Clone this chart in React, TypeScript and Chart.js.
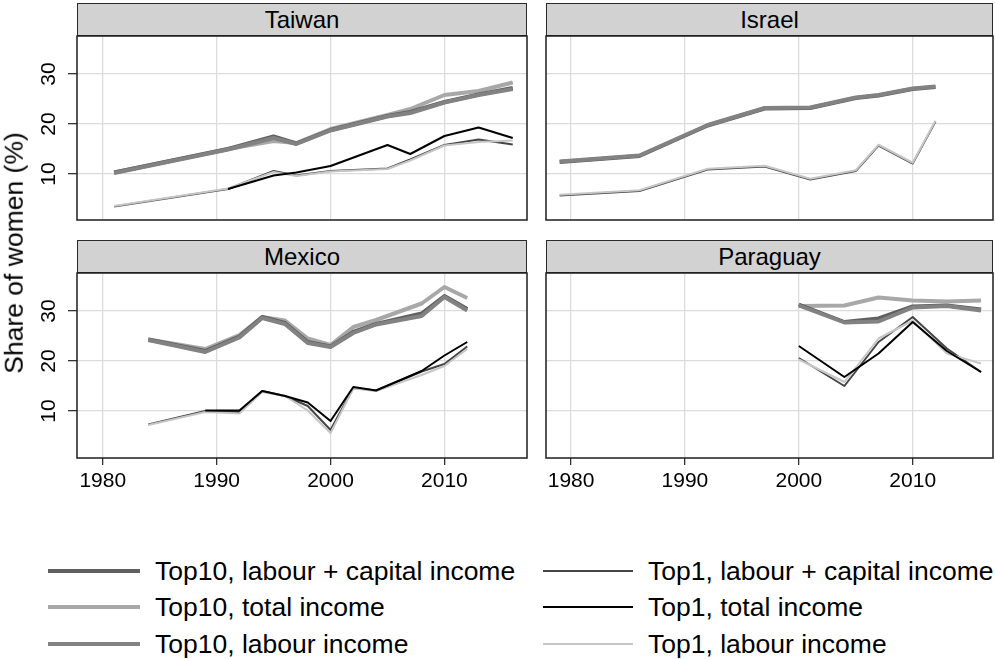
import React, { useEffect, useRef } from "react";
import { Chart, registerables } from "chart.js";

Chart.register(...registerables);

const FONT = '"Liberation Sans", Arial, Helvetica, sans-serif';

// ---- data ----
const X_TICKS = [1980, 1990, 2000, 2010];
const Y_TICKS = [10, 20, 30];

const taiwanYears = [1981, 1991, 1995, 1997, 2000, 2005, 2007, 2010, 2013, 2016];
const taiwanTop10LabCap = [10.3, 15.0, 17.5, 16.1, 18.8, 21.6, 22.4, 24.4, 25.9, 27.2];
const taiwanTop10Total = [10.3, 15.0, 16.6, 16.2, 19.0, 21.8, 23.0, 25.8, 26.6, 28.3];
const taiwanTop10Lab = [10.2, 14.9, 17.2, 16.0, 18.7, 21.5, 22.2, 24.3, 25.8, 27.0];
const taiwanTop1LabCap = [3.5, 7.0, 10.6, 9.7, 10.6, 11.1, 12.9, 15.8, 16.9, 15.9];
const taiwanTop1Total = [null, 7.0, 9.7, 10.3, 11.6, 15.8, 14.0, 17.6, 19.3, 17.2];
const taiwanTop1Lab = [3.6, 7.1, 10.4, 9.6, 10.5, 11.0, 12.7, 15.7, 16.4, 16.7];

const israelYears = [1979, 1986, 1992, 1997, 2001, 2005, 2007, 2010, 2012];
const israelTop10LabCap = [12.4, 13.6, 19.7, 23.1, 23.2, 25.2, 25.7, 27.0, 27.4];
const israelTop10Lab = [12.5, 13.7, 19.8, 23.2, 23.3, 25.3, 25.8, 27.1, 27.5];
const israelTop1LabCap = [5.7, 6.6, 10.9, 11.5, 8.9, 10.6, 15.7, 12.1, 20.5];
const israelTop1Lab = [5.85, 6.75, 11.05, 11.65, 9.05, 10.75, 15.85, 12.25, 20.65];

const mexicoYears = [1984, 1989, 1992, 1994, 1996, 1998, 2000, 2002, 2004, 2008, 2010, 2012];
const mexicoTop10LabCap = [24.3, 22.0, 24.9, 28.8, 27.6, 23.8, 22.9, 25.8, 27.4, 29.5, 33.0, 30.4];
const mexicoTop10Total = [24.3, 22.4, 25.2, 28.8, 28.1, 24.5, 23.2, 26.8, 28.2, 31.5, 34.8, 32.6];
const mexicoTop10Lab = [24.2, 21.8, 24.7, 28.6, 27.4, 23.6, 22.8, 25.6, 27.3, 29.0, 32.8, 30.1];
const mexicoTop1LabCap = [7.3, 10.0, 9.8, 14.0, 13.0, 11.0, 6.2, 14.6, 14.1, 17.9, 19.4, 22.9];
const mexicoTop1Total = [null, 10.1, 10.1, 14.0, 13.0, 11.7, 8.0, 14.8, 14.1, 18.0, 21.1, 23.8];
const mexicoTop1Lab = [7.2, 9.8, 9.5, 13.8, 13.0, 10.1, 5.6, 14.5, 14.0, 17.2, 19.0, 22.4];

const paraguayYears = [2000, 2004, 2007, 2010, 2013, 2016];
const paraguayTop10LabCap = [31.3, 27.8, 28.5, 30.9, 31.1, 30.3];
const paraguayTop10Total = [31.0, 31.1, 32.7, 32.1, 31.9, 32.1];
const paraguayTop10Lab = [31.1, 27.7, 27.9, 30.7, 31.0, 30.1];
const paraguayTop1LabCap = [20.6, 15.0, 23.8, 28.8, 22.5, 17.8];
const paraguayTop1Total = [23.0, 16.8, 21.5, 27.8, 22.0, 17.8];
const paraguayTop1Lab = [20.3, 15.8, 24.5, 28.1, 21.5, 19.5];

const SERIES_LABELS = [
  "Top10, labour + capital income",
  "Top10, total income",
  "Top10, labour income",
  "Top1, labour + capital income",
  "Top1, total income",
  "Top1, labour income",
];

// ---- styles ----
const SERIES_STYLE = [
  { color: "#606060", width: 4, order: 5 },
  { color: "#a8a8a8", width: 4, order: 6 },
  { color: "#828282", width: 4, order: 4 },
  { color: "#454545", width: 2, order: 3 },
  { color: "#000000", width: 2, order: 1 },
  { color: "#c6c6c6", width: 2, order: 2 },
];

type PanelDef = {
  title: string;
  years: number[];
  values: ((number | null)[] | null)[];
  left: number;
  top: number;
  width: number;
  height: number;
  xmin: number;
  xmax: number;
  ymin: number;
  ymax: number;
  showX: boolean;
  showY: boolean;
};

const PANELS: PanelDef[] = [
  {
    title: "Taiwan",
    years: taiwanYears,
    values: [taiwanTop10LabCap, taiwanTop10Total, taiwanTop10Lab, taiwanTop1LabCap, taiwanTop1Total, taiwanTop1Lab],
    left: 77, top: 36, width: 450, height: 184,
    xmin: 1977.74, xmax: 2017.25, ymin: 0.8, ymax: 37.6, showX: false, showY: true,
  },
  {
    title: "Israel",
    years: israelYears,
    values: [israelTop10LabCap, null, israelTop10Lab, israelTop1LabCap, null, israelTop1Lab],
    left: 546, top: 36, width: 447, height: 184,
    xmin: 1977.8, xmax: 2017.05, ymin: 0.8, ymax: 37.6, showX: false, showY: false,
  },
  {
    title: "Mexico",
    years: mexicoYears,
    values: [mexicoTop10LabCap, mexicoTop10Total, mexicoTop10Lab, mexicoTop1LabCap, mexicoTop1Total, mexicoTop1Lab],
    left: 77, top: 273, width: 450, height: 185,
    xmin: 1977.74, xmax: 2017.25, ymin: 0.6, ymax: 37.6, showX: true, showY: true,
  },
  {
    title: "Paraguay",
    years: paraguayYears,
    values: [paraguayTop10LabCap, paraguayTop10Total, paraguayTop10Lab, paraguayTop1LabCap, paraguayTop1Total, paraguayTop1Lab],
    left: 546, top: 273, width: 447, height: 185,
    xmin: 1977.8, xmax: 2017.05, ymin: 0.6, ymax: 37.6, showX: true, showY: false,
  },
];

const PAD = 2;
const Y_AXIS_W = 77;
const X_AXIS_H = 40;

const framePlugin = {
  id: "frame",
  afterDraw(chart: any) {
    const { ctx, chartArea: a } = chart;
    ctx.save();
    ctx.strokeStyle = "#1e1e1e";
    ctx.lineWidth = 1.5;
    ctx.strokeRect(a.left, a.top, a.right - a.left, a.bottom - a.top);
    ctx.restore();
  },
};

function Panel({ p }: { p: PanelDef }) {
  const ref = useRef<HTMLCanvasElement>(null);
  const cLeft = p.showY ? p.left - Y_AXIS_W : p.left - PAD;
  const cTop = p.top - PAD;
  const cW = p.left + p.width + PAD - cLeft;
  const cH = PAD + p.height + (p.showX ? X_AXIS_H : PAD);

  useEffect(() => {
    const canvas = ref.current!;
    const datasets: any[] = [];
    p.values.forEach((vals, i) => {
      if (!vals) return;
      const s = SERIES_STYLE[i];
      datasets.push({
        label: SERIES_LABELS[i],
        data: p.years.map((yr, j) => ({ x: yr, y: vals[j] })),
        borderColor: s.color,
        backgroundColor: s.color,
        borderWidth: s.width,
        order: s.order,
        pointRadius: 0,
        pointHoverRadius: 0,
        fill: false,
        tension: 0,
        spanGaps: false,
        borderJoinStyle: "round",
      });
    });
    const chart = new Chart(canvas, {
      type: "line",
      data: { datasets },
      plugins: [framePlugin],
      options: {
        animation: false,
        responsive: false,
        events: [],
        layout: {
          padding: {
            left: p.showY ? 0 : PAD,
            right: PAD,
            top: PAD,
            bottom: p.showX ? 0 : PAD,
          },
        },
        plugins: { legend: { display: false }, tooltip: { enabled: false }, title: { display: false } },
        scales: {
          x: {
            type: "linear",
            min: p.xmin,
            max: p.xmax,
            afterBuildTicks: (s: any) => {
              s.ticks = X_TICKS.map((v) => ({ value: v }));
            },
            afterFit: (s: any) => {
              s.height = p.showX ? X_AXIS_H : 0;
              s.paddingLeft = 0;
              s.paddingRight = 0;
              s.paddingTop = 0;
              s.paddingBottom = 0;
            },
            border: { display: false },
            grid: {
              color: "#dcdcdc",
              lineWidth: 1.3,
              drawTicks: p.showX,
              tickLength: 7,
              tickColor: "#333333",
              tickWidth: 1.3,
            },
            ticks: {
              display: p.showX,
              color: "#000",
              font: { family: FONT, size: 21 },
              padding: 4,
              minRotation: 0,
              maxRotation: 0,
              autoSkip: false,
              callback: (v: any) => String(v),
            },
          },
          y: {
            type: "linear",
            min: p.ymin,
            max: p.ymax,
            afterBuildTicks: (s: any) => {
              s.ticks = Y_TICKS.map((v) => ({ value: v }));
            },
            afterFit: (s: any) => {
              s.width = p.showY ? Y_AXIS_W : 0;
              s.paddingLeft = 0;
              s.paddingRight = 0;
              s.paddingTop = 0;
              s.paddingBottom = 0;
            },
            border: { display: false },
            grid: {
              color: "#dcdcdc",
              lineWidth: 1.3,
              drawTicks: p.showY,
              tickLength: 9,
              tickColor: "#333333",
              tickWidth: 1.3,
            },
            ticks: {
              display: p.showY,
              color: "#000",
              font: { family: FONT, size: 21 },
              padding: 7,
              minRotation: 90,
              maxRotation: 90,
              crossAlign: "center",
              autoSkip: false,
              callback: (v: any) => String(v),
            },
          },
        },
      } as any,
    });
    return () => chart.destroy();
  }, []);

  return (
    <>
      <div
        style={{
          position: "absolute",
          left: p.left,
          top: p.top - 33,
          width: p.width,
          height: 33,
          boxSizing: "border-box",
          background: "#d2d2d2",
          border: "1.5px solid #2a2a2a",
          fontFamily: FONT,
          fontSize: 24,
          color: "#000",
          display: "flex",
          alignItems: "center",
          justifyContent: "center",
        }}
      >
        {p.title}
      </div>
      <canvas
        ref={ref}
        width={cW}
        height={cH}
        style={{ position: "absolute", left: cLeft, top: cTop, width: cW, height: cH }}
      />
    </>
  );
}

const LEGEND_COLS = [
  { lineLeft: 48, lineW: 92, textLeft: 155, items: [0, 1, 2] },
  { lineLeft: 543, lineW: 90, textLeft: 648, items: [3, 4, 5] },
];
const LEGEND_ROWS_Y = [571, 607, 644];

export default function App() {
  return (
    <div
      style={{
        position: "absolute",
        left: 0,
        top: 0,
        width: 995,
        height: 659,
        overflow: "hidden",
        background: "#fff",
      }}
    >
      {PANELS.map((p) => (
        <Panel key={p.title} p={p} />
      ))}
      <div
        style={{
          position: "absolute",
          left: 14,
          top: 253,
          transform: "translate(-50%, -50%) rotate(-90deg)",
          whiteSpace: "nowrap",
          fontFamily: FONT,
          fontSize: 26.5,
          color: "#000",
          lineHeight: 1,
        }}
      >
        Share of women (%)
      </div>
      {LEGEND_COLS.map((col, ci) =>
        col.items.map((si, ri) => {
          const st = SERIES_STYLE[si];
          const cy = LEGEND_ROWS_Y[ri];
          return (
            <React.Fragment key={`${ci}-${ri}`}>
              <div
                style={{
                  position: "absolute",
                  left: col.lineLeft,
                  top: cy - st.width / 2,
                  width: col.lineW,
                  height: st.width,
                  background: st.color,
                }}
              />
              <div
                style={{
                  position: "absolute",
                  left: col.textLeft,
                  top: cy,
                  transform: "translateY(-50%)",
                  whiteSpace: "nowrap",
                  fontFamily: FONT,
                  fontSize: 26.5,
                  color: "#000",
                  lineHeight: 1,
                }}
              >
                {SERIES_LABELS[si]}
              </div>
            </React.Fragment>
          );
        })
      )}
    </div>
  );
}
